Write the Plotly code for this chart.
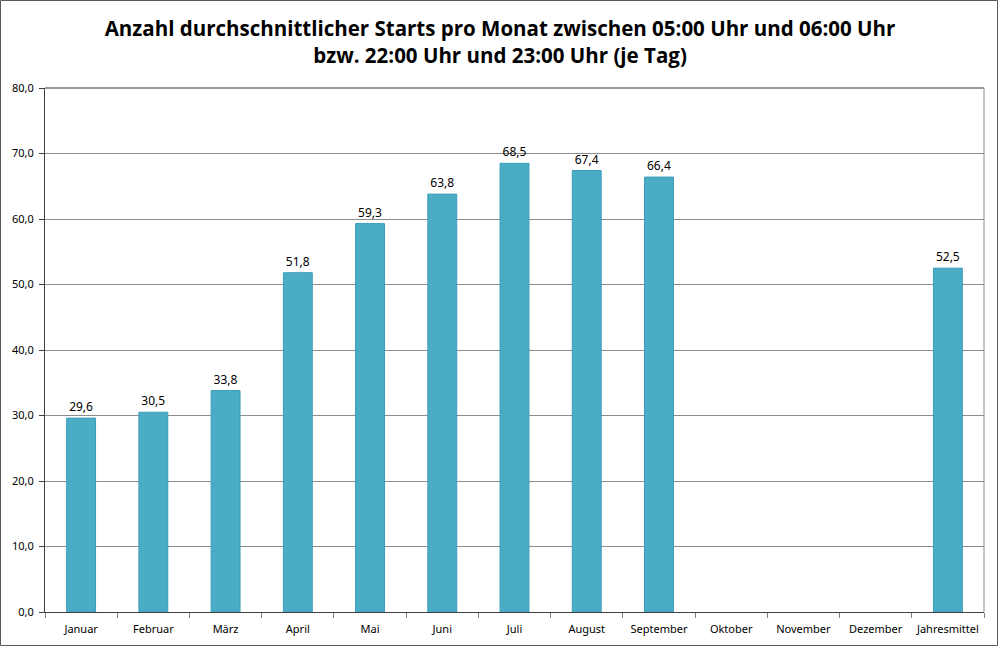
import plotly.graph_objects as go

categories = ["Januar", "Februar", "März", "April", "Mai", "Juni", "Juli",
              "August", "September", "Oktober", "November", "Dezember", "Jahresmittel"]
values = [29.6, 30.5, 33.8, 51.8, 59.3, 63.8, 68.5, 67.4, 66.4, None, None, None, 52.5]
y_ticks = [0, 10, 20, 30, 40, 50, 60, 70, 80]

W, H = 1000, 647
L, R, T, B = 45, 16, 88, 35
pw, ph = W - L - R, H - T - B

fig = go.Figure()
fig.add_trace(go.Bar(
    x=categories, y=values,
    marker=dict(color="#4BACC6", line=dict(color="#3A9DBA", width=1)),
    text=[None if v is None else f"{v:.1f}".replace(".", ",") for v in values],
    textposition="outside",
    textfont=dict(family="Noto Sans", size=12, color="#000"),
    cliponaxis=False,
))

fig.update_layout(
    width=W, height=H,
    margin=dict(l=L, r=R, t=T, b=B, autoexpand=False),
    paper_bgcolor="white", plot_bgcolor="white",
    separators=",.",
    bargap=0.6,
    showlegend=False,
    title=dict(
        text="Anzahl durchschnittlicher Starts pro Monat zwischen 05:00 Uhr und 06:00 Uhr<br>bzw. 22:00 Uhr und 23:00 Uhr (je Tag)",
        x=0.5, xanchor="center", y=1 - 36 / H, yanchor="middle",
        font=dict(family="Open Sans", size=20.5, color="#000", weight="bold"),
    ),
    xaxis=dict(
        showline=True, linecolor="#404040", linewidth=1,
        ticks="outside", tickson="boundaries", ticklen=5, tickcolor="#808080",
        ticklabelstandoff=7,
        tickfont=dict(family="Noto Sans", size=11, color="#000"),
        showgrid=False,
    ),
    yaxis=dict(
        range=[0, 80], tickvals=y_ticks, tickformat=".1f",
        showline=True, linecolor="#404040", linewidth=1,
        ticks="outside", ticklen=5, tickcolor="#404040",
        ticklabelstandoff=3,
        tickfont=dict(family="Noto Sans", size=11, color="#000"),
        showgrid=True, gridcolor="#8C8C8C", gridwidth=1,
        zeroline=False,
    ),
)

# plot-area border (top dark, right grey)
fig.add_shape(type="line", xref="paper", yref="paper", x0=0, x1=1, y0=1, y1=1,
              line=dict(color="#303030", width=1))
fig.add_shape(type="line", xref="paper", yref="paper", x0=1, x1=1, y0=0, y1=1,
              line=dict(color="#8C8C8C", width=1))
# outer chart border
fig.add_shape(type="rect", xref="paper", yref="paper",
              x0=(0.5 - L) / pw, x1=(W - 2.5 - L) / pw,
              y0=-(B - 1.5) / ph, y1=1 + (T - 0.5) / ph,
              line=dict(color="#5A5A5A", width=1), layer="below")

fig.write_html("out.html", config={"displayModeBar": False},
               post_script="document.body.style.margin='0';document.body.style.overflow='hidden';")
